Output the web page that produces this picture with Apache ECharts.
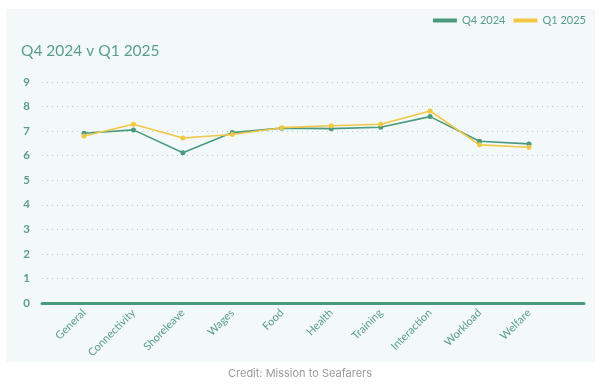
<!DOCTYPE html>
<html><head><meta charset="utf-8">
<script src="https://cdn.jsdelivr.net/npm/echarts@6/dist/echarts.min.js"></script>
<style>html,body{margin:0;padding:0;background:#fff}#c{width:600px;height:386px}</style>
</head><body><div id="c"></div>
<script>
const categories = ['General','Connectivity','Shoreleave','Wages','Food','Health','Training','Interaction','Workload','Welfare'];
const q4_2024 = [6.91, 7.05, 6.12, 6.94, 7.12, 7.10, 7.16, 7.59, 6.59, 6.48];
const q1_2025 = [6.80, 7.28, 6.72, 6.86, 7.14, 7.22, 7.28, 7.82, 6.44, 6.34];
const yTicks = [0,1,2,3,4,5,6,7,8,9];

const teal = '#5a9f89';
const green = '#4a9a7e';
const yellow = '#f2c744';
const font = 'Lato';

const chart = echarts.init(document.getElementById('c'));
chart.setOption({
  backgroundColor: '#ffffff',
  animation: false,
  textStyle: {fontFamily: font},
  graphic: [
    {type:'rect', shape:{x:6,y:9,width:589,height:353}, style:{fill:'#f3f8f9'}, z:-10, silent:true},
    {type:'text', left:'center', top:368, style:{text:'Credit: Mission to Seafarers', fill:'#9a9a9a', font:'11px Inter'}}
  ],
  title: {text:'Q4 2024 v Q1 2025', left:16, top:38, textStyle:{color:teal, fontSize:15.5, fontWeight:'normal', fontFamily:font}},
  legend: {
    right: 9, top: 10, icon:'rect', itemWidth:24, itemHeight:4, itemGap:8,
    textStyle:{color:teal, fontSize:11, fontFamily:font},
    data:['Q4 2024','Q1 2025']
  },
  grid: [
    {left:42, right:16, top:82, bottom:83},
    {left:84, right:71, top:82, bottom:83}
  ],
  xAxis: [
    {gridIndex:0, type:'value', min:0, max:1, axisLabel:{show:false}, axisTick:{show:false}, splitLine:{show:false},
     axisLine:{show:true, lineStyle:{color:green, width:3}}},
    {gridIndex:1, type:'category', data:categories, boundaryGap:false,
     axisLine:{show:false}, axisTick:{show:false},
     axisLabel:{rotate:45, margin:8, color:teal, fontSize:11, fontFamily:font, interval:0}}
  ],
  yAxis: [
    {gridIndex:0, type:'value', min:0, max:9, interval:1,
     axisLine:{show:false}, axisTick:{show:false},
     axisLabel:{margin:12, color:teal, fontSize:11.5, fontWeight:'bold', fontFamily:font, formatter:(v)=> yTicks.includes(v) ? String(v) : ''},
     splitLine:{show:true, lineStyle:{color:'#b9c9c6', type:[1,4], width:1}}},
    {gridIndex:1, type:'value', min:0, max:9, interval:1, show:false}
  ],
  series: [
    {name:'Q4 2024', type:'line', xAxisIndex:1, yAxisIndex:1, data:q4_2024, color:green,
     symbol:'circle', symbolSize:5, lineStyle:{width:1.6, color:green}, itemStyle:{color:green}},
    {name:'Q1 2025', type:'line', xAxisIndex:1, yAxisIndex:1, data:q1_2025, color:yellow,
     symbol:'circle', symbolSize:5, lineStyle:{width:1.6, color:yellow}, itemStyle:{color:yellow}}
  ]
});
</script></body></html>
